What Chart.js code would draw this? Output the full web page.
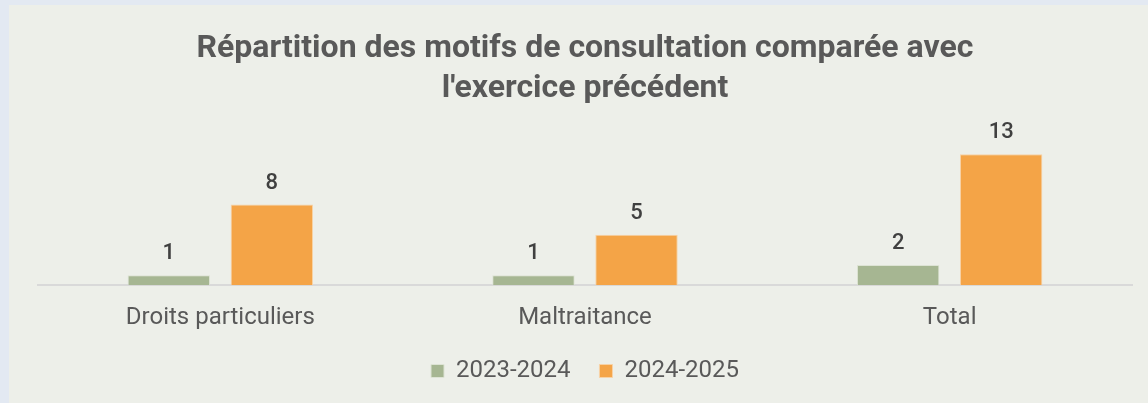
<!DOCTYPE html>
<html>
<head>
<meta charset="utf-8">
<script src="https://cdn.jsdelivr.net/npm/chart.js@4"></script>
<style>
  body { margin: 0; background: #E3E9F2; }
  #panel { position: absolute; left: 9px; top: 5px; width: 1139px; height: 398px; background: #EDEFE9; }
</style>
</head>
<body>
<div id="panel"><canvas id="chart" width="1139" height="398"></canvas></div>
<script>
// données
const categories = ['Droits particuliers', 'Maltraitance', 'Total'];
const serie2023 = [1, 1, 2];
const serie2024 = [8, 5, 13];
const seriesLabels = ['2023-2024', '2024-2025'];

const police = "Roboto, 'Noto Sans', sans-serif";
const gris = '#595959';

// étiquettes de valeurs au-dessus des barres
const valeursPlugin = {
    id: 'valeurs',
    afterDatasetsDraw(chart) {
        const ctx = chart.ctx;
        ctx.save();
        ctx.font = '500 22px ' + police;
        ctx.fillStyle = '#404040';
        ctx.textAlign = 'center';
        ctx.textBaseline = 'alphabetic';
        chart.data.datasets.forEach((ds, i) => {
            chart.getDatasetMeta(i).data.forEach((bar, j) => {
                ctx.fillText(ds.data[j], bar.x, bar.y - 16);
            });
        });
        ctx.restore();
    }
};

new Chart(document.getElementById('chart'), {
    type: 'bar',
    data: {
        labels: categories,
        datasets: [{
            label: seriesLabels[0],
            data: serie2023,
            backgroundColor: '#A6B692',
            borderColor: '#DDE3D4',
            borderWidth: 1,
            categoryPercentage: 0.565,
            barPercentage: 0.8
        }, {
            label: seriesLabels[1],
            data: serie2024,
            backgroundColor: '#F4A447',
            borderColor: '#F7D2A6',
            borderWidth: 1,
            categoryPercentage: 0.565,
            barPercentage: 0.8
        }]
    },
    options: {
        responsive: false,
        animation: false,
        layout: { padding: { left: 29, right: 16, top: 24, bottom: 10 } },
        plugins: {
            title: {
                display: true,
                text: ["Répartition des motifs de consultation comparée avec", "l'exercice précédent"],
                color: gris,
                font: { family: police, size: 32, weight: 'bold', lineHeight: 1.25 },
                padding: { top: 0, bottom: 10 }
            },
            legend: {
                position: 'bottom',
                labels: {
                    color: gris,
                    font: { family: police, size: 24 },
                    boxWidth: 13,
                    boxHeight: 13,
                    padding: 17,
                    // espace entre les deux entrées de légende
                    generateLabels(chart) {
                        const items = Chart.defaults.plugins.legend.labels.generateLabels(chart);
                        items.forEach((it, i) => {
                            if (i < items.length - 1) it.text = it.text + '  ';
                        });
                        return items;
                    }
                }
            },
            tooltip: { enabled: false }
        },
        scales: {
            x: {
                grid: { display: false },
                border: { display: true, color: '#D9D9D9', width: 2 },
                ticks: { color: gris, font: { family: police, size: 24 }, padding: 10 }
            },
            y: {
                display: false,
                min: 0,
                max: 16.5
            }
        }
    },
    plugins: [valeursPlugin]
});
</script>
</body>
</html>
